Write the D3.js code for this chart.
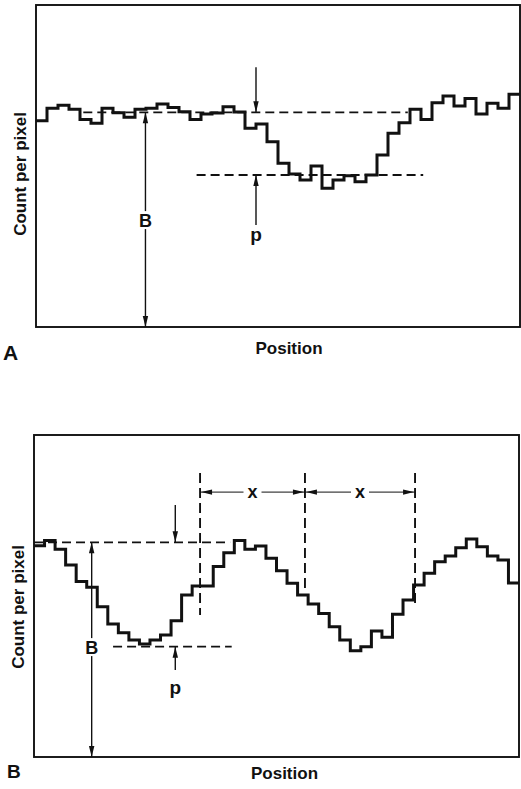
<!DOCTYPE html>
<html><head><meta charset="utf-8">
<script src="https://cdn.jsdelivr.net/npm/d3@7"></script>
<style>body{margin:0;background:#fff}svg{display:block}</style>
</head><body>
<script>
// ---------- DATA ----------
// Panel A: count per pixel for successive pixels along the position axis
const countsA = [96.1,101.9,103.3,101.4,96.7,94.9,101.9,99.8,97.7,101.4,
                 101.9,103.9,102.3,100.3,96.7,99.2,99.7,102.6,100.1,92.6,
                 94.6,86.3,76.3,71.3,68.5,75.0,64.6,68.5,70.5,67.7,
                 70.8,80.1,90.2,95.2,101.4,96.7,104.5,107.6,102.9,106.5,
                 99.2,104.2,101.9,108.4];
// Panel B: periodic pattern
const countsB = [98.4,100.8,96.8,89.4,81.7,79.1,70.0,62.0,57.9,54.5,
                 52.6,54.5,56.8,63.5,75.5,79.7,79.7,88.7,95.2,100.8,
                 96.8,98.3,92.6,86.8,80.9,75.5,71.3,66.9,60.7,54.5,
                 49.5,51.4,58.7,55.8,66.5,73.1,80.1,85.6,91.0,93.6,
                 97.5,101.6,98.0,93.6,91.8,81.1];
const yMax = 150;
const panelLetters = ["A", "B"];
const xTitle = "Position";
const yTitle = "Count per pixel";
// annotation levels (count units): [background B, minimum]
const levelsA = [100, 70.8];
const levelsB = [100, 51.4];
// annotation positions (pixel-index units)
const bArrowPos = [9.95, 5.47];      // B arrow in A, B
const pArrowPos = [20, 13.4];        // p arrows
const bgDashA = [4.3, 33.8];         // background dashed line extent A
const minDashA = [14.6, 35.2];
const bgDashB = [0, 18.6];
const minDashB = [7.5, 18.75];
const periodMarks = [15.75, 25.7, 36.14];  // dashed verticals in B
const periodMarkBottoms = [66.1, 77.8, 70.3];
const periodMarkTop = 132.3;
const periodArrowLevel = 123.4;

// ---------- DRAW ----------
const W = 521, H = 789;
const font = "'Liberation Sans', Arial, Helvetica, sans-serif";
const ink = "#111";
const svg = d3.select("body").append("svg").attr("width", W).attr("height", H);

function head(g, x, y, dir, len = 11, hw = 2.7) {
  let p;
  if (dir === "down") p = [[x, y], [x - hw, y - len], [x + hw, y - len]];
  if (dir === "up") p = [[x, y], [x - hw, y + len], [x + hw, y + len]];
  if (dir === "left") p = [[x, y], [x + len, y - hw], [x + len, y + hw]];
  if (dir === "right") p = [[x, y], [x - len, y - hw], [x - len, y + hw]];
  g.append("path").attr("d", "M" + p.join("L") + "Z").attr("fill", ink);
}
function vline(g, x, y1, y2, w = 1.4) {
  g.append("line").attr("x1", x).attr("x2", x).attr("y1", y1).attr("y2", y2)
    .attr("stroke", ink).attr("stroke-width", w);
}
function dashH(g, x1, x2, y) {
  g.append("line").attr("x1", x1).attr("x2", x2).attr("y1", y).attr("y2", y)
    .attr("stroke", ink).attr("stroke-width", 1.9).attr("stroke-dasharray", "9,5");
}
function label(g, txt, x, y, size, anchor = "middle", baseline = "central") {
  return g.append("text").attr("x", x).attr("y", y).text(txt)
    .attr("font-family", font).attr("font-weight", "bold").attr("font-size", size)
    .attr("text-anchor", anchor).attr("dominant-baseline", baseline).attr("fill", ink);
}

function panel(counts, box) {
  const g = svg.append("g");
  const x = d3.scaleLinear().domain([0, counts.length]).range([box.left, box.right]);
  const y = d3.scaleLinear().domain([0, yMax]).range([box.bottom, box.top]);
  g.append("rect").attr("x", box.left).attr("y", box.top)
    .attr("width", box.right - box.left).attr("height", box.bottom - box.top)
    .attr("fill", "none").attr("stroke", ink).attr("stroke-width", 1.9);
  const pts = counts.map((v, i) => [i, v]);
  pts.push([counts.length, counts[counts.length - 1]]);
  const line = d3.line().x(d => x(d[0])).y(d => y(d[1])).curve(d3.curveStepAfter);
  g.append("path").attr("d", line(pts)).attr("fill", "none")
    .attr("stroke", ink).attr("stroke-width", 3).attr("stroke-linejoin", "miter");
  return { g, x, y };
}

// ----- Panel A -----
{
  const { g, x, y } = panel(countsA, { left: 36, right: 520, top: 5, bottom: 327 });
  dashH(g, x(bgDashA[0]), x(bgDashA[1]), y(levelsA[0]));
  dashH(g, x(minDashA[0]), x(minDashA[1]), y(levelsA[1]));
  const px = x(pArrowPos[0]);
  vline(g, px, y(121), y(levelsA[0]));
  head(g, px, y(levelsA[0]), "down");
  vline(g, px, y(47.5), y(levelsA[1]));
  head(g, px, y(levelsA[1]), "up");
  label(g, "p", px, y(40), 19, "middle", "alphabetic");
  const bx = x(bArrowPos[0]);
  vline(g, bx, y(0), y(levelsA[0]));
  head(g, bx, y(levelsA[0]), "up");
  head(g, bx, y(0), "down");
  g.append("rect").attr("x", bx - 8).attr("y", y(49.8) - 9).attr("width", 16).attr("height", 18).attr("fill", "#fff");
  label(g, "B", bx, y(49.8) + 1, 18);
  label(g, panelLetters[0], 3, 360, 21, "start", "alphabetic");
  label(g, xTitle, 289, 354, 17, "middle", "alphabetic");
  label(g, yTitle, 0, 0, 17, "middle", "alphabetic").attr("transform", "translate(26,174) rotate(-90)");
}

// ----- Panel B -----
{
  const { g, x, y } = panel(countsB, { left: 34, right: 519, top: 435, bottom: 757 });
  dashH(g, x(bgDashB[0]), x(bgDashB[1]), y(levelsB[0]));
  dashH(g, x(minDashB[0]), x(minDashB[1]), y(levelsB[1]));
  const px = x(pArrowPos[1]);
  vline(g, px, y(117.4), y(levelsB[0]));
  head(g, px, y(levelsB[0]), "down");
  vline(g, px, y(40.5), y(levelsB[1]));
  head(g, px, y(levelsB[1]), "up");
  label(g, "p", px, y(29.3), 19, "middle", "alphabetic");
  const bx = x(bArrowPos[1]);
  vline(g, bx, y(0), y(levelsB[0]));
  head(g, bx, y(levelsB[0]), "up");
  head(g, bx, y(0), "down");
  g.append("rect").attr("x", bx - 8).attr("y", y(51.2) - 9).attr("width", 16).attr("height", 18).attr("fill", "#fff");
  label(g, "B", bx, y(51.2) + 1, 18);
  periodMarks.forEach((m, i) => {
    g.append("line").attr("x1", x(m)).attr("x2", x(m))
      .attr("y1", y(periodMarkTop)).attr("y2", y(periodMarkBottoms[i]))
      .attr("stroke", ink).attr("stroke-width", 1.9).attr("stroke-dasharray", "10,5");
  });
  const ay = y(periodArrowLevel);
  for (let i = 0; i < periodMarks.length - 1; i++) {
    const x1 = x(periodMarks[i]), x2 = x(periodMarks[i + 1]), xm = (x1 + x2) / 2;
    g.append("line").attr("x1", x1).attr("x2", xm - 9).attr("y1", ay).attr("y2", ay).attr("stroke", ink).attr("stroke-width", 1);
    g.append("line").attr("x1", xm + 9).attr("x2", x2).attr("y1", ay).attr("y2", ay).attr("stroke", ink).attr("stroke-width", 1);
    head(g, x1 + 1, ay, "left", 11, 2.6);
    head(g, x2 - 1, ay, "right", 11, 2.6);
    label(g, "x", xm, ay, 18);
  }
  label(g, panelLetters[1], 7, 778, 19, "start", "alphabetic");
  label(g, xTitle, 284.5, 779, 17, "middle", "alphabetic");
  label(g, yTitle, 0, 0, 17, "middle", "alphabetic").attr("transform", "translate(24,607) rotate(-90)");
}
</script>
</body></html>
